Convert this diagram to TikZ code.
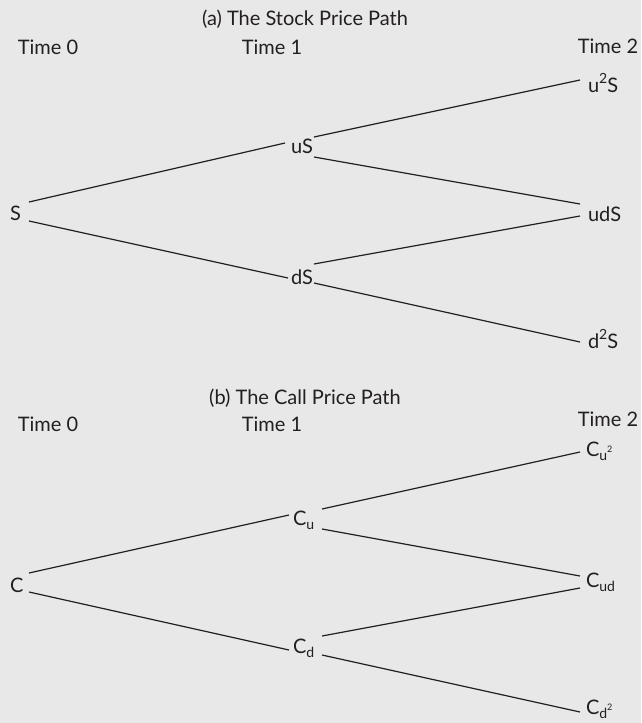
\documentclass[tikz,border=0pt]{standalone}
\usepackage{fontspec}
\setmainfont{Lato}
\definecolor{bg}{HTML}{E8E8E8}
\definecolor{ink}{HTML}{231F20}
\newcommand{\sbs}[1]{\raisebox{-0.22em}{\fontsize{14}{14}\selectfont #1}}
\newcommand{\sps}[1]{\raisebox{0.45em}{\fontsize{14}{14}\selectfont #1}}
\newcommand{\tinysq}{\raisebox{0.55em}{\fontsize{9}{9}\selectfont 2}}
\begin{document}
\begin{tikzpicture}[x=1pt,y=-1pt,
  every node/.style={inner sep=0pt,outer sep=0pt,text=ink,font=\fontsize{20}{24}\selectfont},
  lbl/.style={anchor=base west},
  mid/.style={anchor=base},
  edge/.style={draw=ink,line width=1.2pt}]
\fill[bg] (0,0) rectangle (641,723);
\useasboundingbox (0,0) rectangle (641,723);
% ---------- (a) ----------
\node (titleA) at (305,19) {(a) The Stock Price Path};
\node (t0a) at (48,47) {Time 0};
\node (t1a) at (272,47) {Time 1};
\node (t2a) at (608,46) {Time 2};
\node[lbl] (S) at (10,220) {S};
\node[mid] (uS) at (302,153) {uS};
\node[mid] (dS) at (302,284) {dS};
\node[lbl] (uuS) at (588,92) {u\sps{2}S};
\node[lbl] (udS) at (588,221) {udS};
\node[lbl] (ddS) at (588,348) {d\sps{2}S};
\path[edge] ([shift={(19,-18)}]S.base west) -- ([shift={(-17,-10)}]uS.base);
\path[edge] ([shift={(19,1)}]S.base west) -- ([shift={(-14,-6)}]dS.base);
\path[edge] ([shift={(12,-16)}]uS.base) -- ([shift={(-8,-12)}]uuS.base west);
\path[edge] ([shift={(12,4)}]uS.base) -- ([shift={(-8,-17)}]udS.base west);
\path[edge] ([shift={(12,-20)}]dS.base) -- ([shift={(-8,-5)}]udS.base west);
\path[edge] ([shift={(12,-1)}]dS.base) -- ([shift={(-8,-6)}]ddS.base west);
% ---------- (b) ----------
\node (titleB) at (305,398) {(b) The Call Price Path};
\node (t0b) at (48,424) {Time 0};
\node (t1b) at (272,424) {Time 1};
\node (t2b) at (608,419) {Time 2};
\node[lbl] (C) at (10,592) {C};
\node[lbl] (Cu) at (293,525) {C\sbs{u}};
\node[lbl] (Cd) at (293,653) {C\sbs{d}};
\node[lbl] (Cuu) at (586,456) {C\sbs{u\tinysq}};
\node[lbl] (Cud) at (586,587) {C\sbs{ud}};
\node[lbl] (Cdd) at (586,714) {C\sbs{d\tinysq}};
\path[edge] ([shift={(19,-19)}]C.base west) -- ([shift={(-4,-10)}]Cu.base west);
\path[edge] ([shift={(19,0)}]C.base west) -- ([shift={(-4,-3)}]Cd.base west);
\path[edge] ([shift={(29,-16)}]Cu.base west) -- ([shift={(-6,-4)}]Cuu.base west);
\path[edge] ([shift={(29,4)}]Cu.base west) -- ([shift={(-6,-11)}]Cud.base west);
\path[edge] ([shift={(29,-17)}]Cd.base west) -- ([shift={(-6,1)}]Cud.base west);
\path[edge] ([shift={(29,2)}]Cd.base west) -- ([shift={(-6,-2)}]Cdd.base west);
\end{tikzpicture}
\end{document}
